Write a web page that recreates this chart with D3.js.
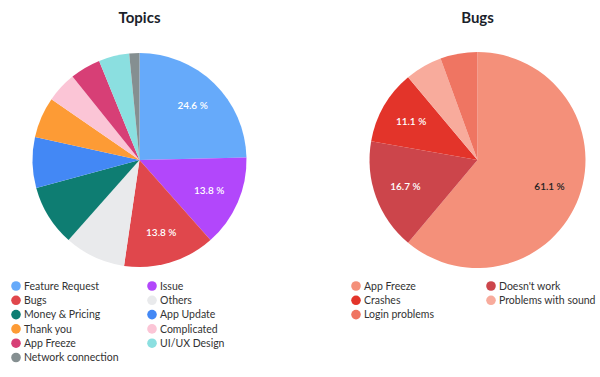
<!DOCTYPE html>
<html>
<head>
<meta charset="utf-8">
<script src="https://cdn.jsdelivr.net/npm/d3@7"></script>
<style>
  body { margin: 0; background: #fff; }
  svg { font-family: Lato, "Open Sans", sans-serif; }
  .chart-title { font-size: 15px; font-weight: bold; fill: #1b1f2b; }
  .legend-text { font-size: 10.5px; fill: #333; }
  .slice-label { font-size: 10px; font-weight: 600; }
</style>
</head>
<body>
<div id="chart"></div>
<script>
// topics data
const topicNames = ['Feature Request', 'Issue', 'Bugs', 'Others', 'Money & Pricing', 'App Update',
  'Thank you', 'Complicated', 'App Freeze', 'UI/UX Design', 'Network connection'];
const topicCounts = [16, 9, 9, 6, 6, 5, 4, 3, 3, 3, 1];
const topicColors = ['#66aafa', '#b247fb', '#e0474c', '#e9eaec', '#0e7d72', '#4388f5',
  '#fd9b35', '#fbc5d6', '#d73f76', '#8bdfe0', '#858f91'];

// bugs data
const bugNames = ['App Freeze', "Doesn't work", 'Crashes', 'Problems with sound', 'Login problems'];
const bugCounts = [11, 3, 2, 1, 1];
const bugColors = ['#f4907a', '#cc454b', '#e3342a', '#f8ab9c', '#ef7562'];
const bugLabelColors = ['#222', '#fff', '#fff', '#fff', '#fff'];

const width = 600, height = 377;

const svg = d3.select('#chart')
  .append('svg')
    .attr('width', width)
    .attr('height', height);

function drawPie(opts) {
  const g = svg.append('g');

  g.append('text')
    .attr('class', 'chart-title')
    .attr('text-anchor', 'middle')
    .attr('x', opts.cx)
    .attr('y', 23)
    .text(opts.title);

  const total = d3.sum(opts.values);
  const pie = d3.pie().sort(null).value(d => d)(opts.values);
  const arc = d3.arc().innerRadius(0).outerRadius(opts.r);
  const labelArc = d3.arc().innerRadius(opts.r * 0.71).outerRadius(opts.r * 0.71);

  const pg = g.append('g').attr('transform', `translate(${opts.cx},${opts.cy})`);
  pg.selectAll('path')
    .data(pie)
    .join('path')
      .attr('d', arc)
      .attr('fill', (d, i) => opts.colors[i]);

  // percentage labels only on the big slices
  pg.selectAll('text')
    .data(pie.filter(d => d.data / total >= 0.1))
    .join('text')
      .attr('class', 'slice-label')
      .attr('text-anchor', 'middle')
      .attr('dy', '0.35em')
      .attr('transform', d => `translate(${labelArc.centroid(d)})`)
      .attr('fill', d => opts.labelColors ? opts.labelColors[d.index] : '#fff')
      .text(d => (d.data / total * 100).toFixed(1) + ' %');

  // legend, two columns row by row
  const lg = g.append('g');
  const items = lg.selectAll('g')
    .data(opts.names)
    .join('g')
      .attr('transform', (d, i) => `translate(${opts.legendX + (i % 2) * opts.colGap},${286 + Math.floor(i / 2) * 14.3})`);
  items.append('circle')
    .attr('r', 4.8)
    .attr('fill', (d, i) => opts.colors[i]);
  items.append('text')
    .attr('class', 'legend-text')
    .attr('x', 8)
    .attr('dy', '0.35em')
    .text(d => d);
}

drawPie({title: 'Topics', cx: 139.5, cy: 160, r: 107, values: topicCounts, names: topicNames,
  colors: topicColors, legendX: 16, colGap: 136});
drawPie({title: 'Bugs', cx: 477.5, cy: 160, r: 108, values: bugCounts, names: bugNames,
  colors: bugColors, labelColors: bugLabelColors, legendX: 356, colGap: 135});
</script>
</body>
</html>
